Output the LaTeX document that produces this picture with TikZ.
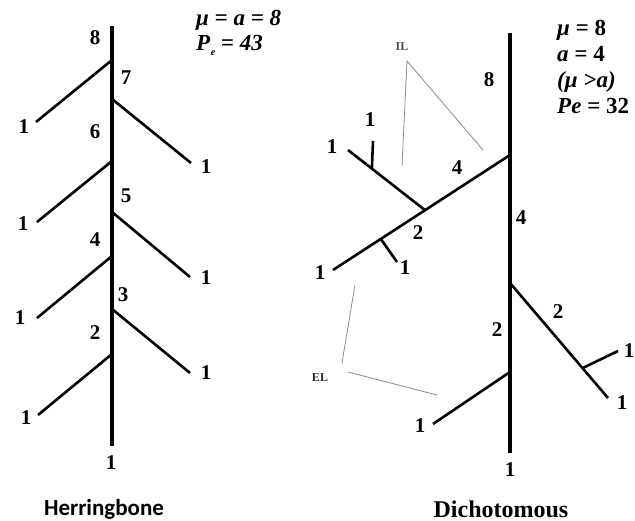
\documentclass[tikz,border=0pt]{standalone}
\usepackage{fontspec}
\setmainfont{Liberation Serif}
\newfontfamily\titlesans{Carlito}
\usetikzlibrary{calc}
\begin{document}
\begin{tikzpicture}[x=1pt,y=-1pt,
  trunk/.style={line width=4pt},
  branch/.style={line width=2.6pt},
  lead/.style={line width=0.8pt, draw=black!45},
  num/.style={font=\fontsize{21}{21}\selectfont\bfseries, inner sep=0pt},
  eq/.style={font=\fontsize{23}{23}\selectfont\bfseries\itshape, inner sep=0pt, anchor=west},
  tag/.style={font=\fontsize{12}{12}\selectfont\bfseries, inner sep=0pt, text=black!70}]
\path[use as bounding box, fill=white] (0,0) rectangle (635,521);

% ---------------- Herringbone ----------------
\coordinate (Htop) at (112,26);
\coordinate (Hbot) at (112,446);
\coordinate (HL1) at (112,60);  \coordinate (HL1e) at (36,122);
\coordinate (HR1) at (112,99);  \coordinate (HR1e) at (191,163);
\coordinate (HL2) at (112,161); \coordinate (HL2e) at (37,222);
\coordinate (HR2) at (112,212); \coordinate (HR2e) at (190,277);
\coordinate (HL3) at (112,256); \coordinate (HL3e) at (37,318);
\coordinate (HR3) at (112,309); \coordinate (HR3e) at (190,373);
\coordinate (HL4) at (112,354); \coordinate (HL4e) at (38,415);
\draw[trunk] (Htop) -- (Hbot);
\draw[branch] (HL1) -- (HL1e);
\draw[branch] (HR1) -- (HR1e);
\draw[branch] (HL2) -- (HL2e);
\draw[branch] (HR2) -- (HR2e);
\draw[branch] (HL3) -- (HL3e);
\draw[branch] (HR3) -- (HR3e);
\draw[branch] (HL4) -- (HL4e);

\node[num] (h8) at (95,38) {8};
\node[num] (h7) at (126,78) {7};
\node[num] (h6) at (95,132) {6};
\node[num] (h5) at (126,196) {5};
\node[num] (h4) at (95,240) {4};
\node[num] (h3) at (123,295) {3};
\node[num] (h2) at (95,333) {2};
\node[num] (h1b) at (111,463) {1};
\node[num] (he1) at (24,127) {1};
\node[num] (he2) at (206,167) {1};
\node[num] (he3) at (23,224) {1};
\node[num] (he4) at (206,278) {1};
\node[num] (he5) at (20,318) {1};
\node[num] (he6) at (206,373) {1};
\node[num] (he7) at (26,418) {1};

\node[eq] (hmu) at (196,20) {μ = a = 8};
\node[eq] (hpe) at (196,45) {P\kern0.5pt\raisebox{-5pt}{\fontsize{10}{10}\selectfont e} = 43};

\node[font=\titlesans\fontsize{23}{23}\selectfont\bfseries, inner sep=0pt, anchor=base] (htitle) at (104,515) {Herringbone};

% ---------------- Dichotomous ----------------
\coordinate (Dtop) at (510,33);
\coordinate (Dbot) at (510,453);
\coordinate (DJ1) at (510,155);
\coordinate (DE1) at (333,270);
\coordinate (DA) at ($(DJ1)!0.48!(DE1)$);
\coordinate (DS) at (348,150);
\coordinate (DT1) at ($(DA)!0.69!(DS)$);
\coordinate (DT1e) at (373,141);
\coordinate (DT2) at ($(DJ1)!0.73!(DE1)$);
\coordinate (DT2e) at (397,262);
\coordinate (DJ2) at (510,283);
\coordinate (DE2) at (608,398);
\coordinate (DT3) at ($(DJ2)!0.74!(DE2)$);
\coordinate (DT3e) at (618,351);
\coordinate (DJ3) at (510,372);
\coordinate (DE3) at (433,424);

\draw[trunk] (Dtop) -- (Dbot);
\draw[branch] (DJ1) -- (DE1);
\draw[branch] (DA) -- (DS);
\draw[branch] (DT1) -- (DT1e);
\draw[branch] (DT2) -- (DT2e);
\draw[branch] (DJ2) -- (DE2);
\draw[branch] (DT3) -- (DT3e);
\draw[branch] (DJ3) -- (DE3);

\node[num] (d8) at (489,80) {8};
\node[num] (d4t) at (521,218) {4};
\node[num] (d2t) at (497,330) {2};
\node[num] (d1b) at (510,470) {1};
\node[num] (d4b) at (457,168) {4};
\node[num] (d2b) at (418,233) {2};
\node[num] (de1) at (332,147) {1};
\node[num] (de2) at (370,120) {1};
\node[num] (de3) at (320,273) {1};
\node[num] (de4) at (405,268) {1};
\node[num] (d2r) at (558,312) {2};
\node[num] (de5) at (629,351) {1};
\node[num] (de6) at (622,403) {1};
\node[num] (de7) at (420,426) {1};

\node[eq] (dmu) at (557,30) {μ = \upshape 8};
\node[eq] (da) at (557,54) {a = \upshape 4};
\node[eq] (dcmp) at (557,82) {(μ >a)};
\node[eq] (dpe) at (557,106) {Pe = \upshape 32};

\node[font=\fontsize{24}{24}\selectfont\bfseries, inner sep=0pt, anchor=base] (dtitle) at (501,517) {Dichotomous};

% ---------------- IL / EL leaders ----------------
\node[tag] (IL) at (402,47) {IL};
\coordinate (ILa) at (407,61);
\coordinate (ILb) at (402,166);
\coordinate (ILc) at (483,150);
\draw[lead] (ILb) -- (ILa) -- (ILc);

\node[tag, text=black!85] (EL) at (320,378) {EL};
\coordinate (ELa) at (355,285);
\coordinate (ELb) at (342,363);
\coordinate (ELc) at (348,372);
\coordinate (ELd) at (437,395);
\draw[lead] (ELa) -- (ELb);
\draw[lead] (ELc) -- (ELd);
\end{tikzpicture}
\end{document}
